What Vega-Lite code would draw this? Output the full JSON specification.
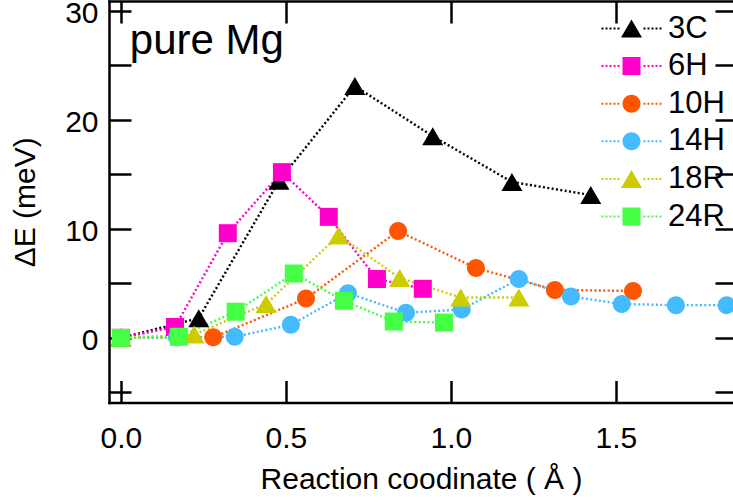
{
  "$schema": "https://vega.github.io/schema/vega-lite/v6.json",
  "width": 624,
  "height": 401.5,
  "autosize": {"type": "none"},
  "padding": {"left": 109, "top": 1, "right": 0, "bottom": 99.5},
  "background": "white",
  "config": {
    "view": {"stroke": null},
    "font": "Liberation Sans",
    "axis": {"grid": false, "domainColor": "black", "tickColor": "black", "labelColor": "black", "titleColor": "black", "labelFont": "Liberation Sans", "titleFont": "Liberation Sans", "titleFontWeight": "normal", "domainWidth": 2.5, "tickWidth": 2.5, "domainCap": "square"}
  },
  "data": {"values": [
    {"series": "3C", "x": 0, "y": 0},
    {"series": "3C", "x": 0.236, "y": 1.8},
    {"series": "3C", "x": 0.479, "y": 14.4},
    {"series": "3C", "x": 0.709, "y": 23.1},
    {"series": "3C", "x": 0.945, "y": 18.5},
    {"series": "3C", "x": 1.185, "y": 14.3},
    {"series": "3C", "x": 1.424, "y": 13.1},
    {"series": "6H", "x": 0, "y": 0},
    {"series": "6H", "x": 0.164, "y": 1.0},
    {"series": "6H", "x": 0.324, "y": 9.6},
    {"series": "6H", "x": 0.488, "y": 15.2},
    {"series": "6H", "x": 0.63, "y": 11.1},
    {"series": "6H", "x": 0.776, "y": 5.4},
    {"series": "6H", "x": 0.915, "y": 4.5},
    {"series": "10H", "x": 0, "y": 0},
    {"series": "10H", "x": 0.28, "y": 0.05},
    {"series": "10H", "x": 0.561, "y": 3.6},
    {"series": "10H", "x": 0.84, "y": 9.8},
    {"series": "10H", "x": 1.076, "y": 6.4},
    {"series": "10H", "x": 1.315, "y": 4.4},
    {"series": "10H", "x": 1.552, "y": 4.3},
    {"series": "14H", "x": 0, "y": 0},
    {"series": "14H", "x": 0.17, "y": 0.05},
    {"series": "14H", "x": 0.345, "y": 0.1},
    {"series": "14H", "x": 0.515, "y": 1.2},
    {"series": "14H", "x": 0.688, "y": 4.1},
    {"series": "14H", "x": 0.864, "y": 2.3},
    {"series": "14H", "x": 1.033, "y": 2.6},
    {"series": "14H", "x": 1.206, "y": 5.4},
    {"series": "14H", "x": 1.364, "y": 3.8},
    {"series": "14H", "x": 1.518, "y": 3.1},
    {"series": "14H", "x": 1.682, "y": 3.0},
    {"series": "14H", "x": 1.836, "y": 3.0},
    {"series": "18R", "x": 0, "y": 0},
    {"series": "18R", "x": 0.222, "y": 0.3},
    {"series": "18R", "x": 0.44, "y": 3.1},
    {"series": "18R", "x": 0.66, "y": 9.4},
    {"series": "18R", "x": 0.845, "y": 5.5},
    {"series": "18R", "x": 1.03, "y": 3.7},
    {"series": "18R", "x": 1.206, "y": 3.7},
    {"series": "24R", "x": 0, "y": 0},
    {"series": "24R", "x": 0.176, "y": 0.1},
    {"series": "24R", "x": 0.348, "y": 2.4},
    {"series": "24R", "x": 0.524, "y": 5.9},
    {"series": "24R", "x": 0.676, "y": 3.4},
    {"series": "24R", "x": 0.827, "y": 1.5},
    {"series": "24R", "x": 0.979, "y": 1.4}
  ]},
  "layer": [
    {
      "mark": {"type": "line", "strokeDash": [2, 2.4], "strokeWidth": 2.4, "strokeCap": "butt"},
      "encoding": {
        "x": {"field": "x", "type": "quantitative", "scale": {"domain": [-0.036, 1.855], "nice": false, "zero": false},
          "axis": {"orient": "bottom", "values": [0, 0.5, 1, 1.5], "format": ".1f", "tickSize": -22, "labelPadding": 42.5, "labelFontSize": 30, "title": "Reaction coodinate ( Å )", "titleFontSize": 30, "titlePadding": 11}},
        "y": {"field": "y", "type": "quantitative", "scale": {"domain": [-5.93, 30.9], "nice": false, "zero": false},
          "axis": {"orient": "left", "values": [-5, 0, 5, 10, 15, 20, 25, 30], "labelExpr": "datum.value % 10 === 0 ? datum.label : ''", "tickSize": -22, "labelPadding": 33, "labelFontSize": 30, "labelOffset": 3, "title": "ΔE (meV)", "titleFontSize": 30, "titlePadding": 24,
            "encode": {"ticks": {"update": {"x2": {"signal": "datum.value % 10 === 0 ? 22 : 11"}}}}}},
        "color": {"field": "series", "type": "nominal", "legend": null,
          "scale": {"domain": ["3C", "6H", "10H", "14H", "18R", "24R"], "range": ["#000000", "#ff00cc", "#ff5500", "#44bbff", "#cccc00", "#44ff44"]}},
        "detail": {"field": "series"}
      }
    },
    {
      "mark": {"type": "point", "filled": true, "opacity": 1, "size": 400, "strokeWidth": 0},
      "encoding": {
        "x": {"field": "x", "type": "quantitative", "scale": {"domain": [-0.036, 1.855], "nice": false, "zero": false},
          "axis": {"orient": "top", "values": [0, 0.5, 1, 1.5], "labels": false, "tickSize": -22, "title": null}},
        "y": {"field": "y", "type": "quantitative", "scale": {"domain": [-5.93, 30.9], "nice": false, "zero": false},
          "axis": {"orient": "right", "values": [-5, 0, 5, 10, 15, 20, 25, 30], "labels": false, "domain": false, "tickSize": -18, "title": null,
            "encode": {"ticks": {"update": {"x2": {"signal": "datum.value % 10 === 0 ? -18 : -8"}}}}}},
        "color": {"field": "series", "type": "nominal", "legend": null,
          "scale": {"domain": ["3C", "6H", "10H", "14H", "18R", "24R"], "range": ["#000000", "#ff00cc", "#ff5500", "#44bbff", "#cccc00", "#44ff44"]}},
        "shape": {"field": "series", "type": "nominal", "legend": null,
          "scale": {"domain": ["3C", "6H", "10H", "14H", "18R", "24R"], "range": ["M0,-0.9L1.05,0.9L-1.05,0.9Z", "M-0.9,-0.9H0.9V0.9H-0.9Z", "M0.9,0A0.9,0.9,0,1,1,-0.9,0A0.9,0.9,0,1,1,0.9,0Z", "M0.9,0A0.9,0.9,0,1,1,-0.9,0A0.9,0.9,0,1,1,0.9,0Z", "M0,-0.9L1.05,0.9L-1.05,0.9Z", "M-0.9,-0.9H0.9V0.9H-0.9Z"]}}
      }
    },
    {
      "transform": [{"filter": "false"}],
      "mark": {"type": "point", "filled": true, "opacity": 1, "size": 400, "strokeWidth": 0},
      "encoding": {
        "x": {"field": "x", "type": "quantitative", "scale": {"domain": [-0.036, 1.855], "nice": false, "zero": false}, "axis": null},
        "y": {"field": "y", "type": "quantitative", "scale": {"domain": [-5.93, 30.9], "nice": false, "zero": false}, "axis": null},
        "color": {"field": "series", "type": "nominal",
          "scale": {"domain": ["3C", "6H", "10H", "14H", "18R", "24R"], "range": ["#000000", "#ff00cc", "#ff5500", "#44bbff", "#cccc00", "#44ff44"]},
          "legend": {"orient": "none", "legendX": 507, "legendY": 12, "title": null, "padding": 0, "symbolSize": 400, "symbolStrokeWidth": 0, "symbolOpacity": 1, "labelFontSize": 31, "labelFont": "Liberation Sans", "labelColor": "black", "labelOffset": 21, "rowPadding": 5.6}},
        "shape": {"field": "series", "type": "nominal",
          "scale": {"domain": ["3C", "6H", "10H", "14H", "18R", "24R"], "range": [
            "M0,-0.9L1.05,0.9L-1.05,0.9ZM-3,-0.1h0.2v0.2h-0.2zM-2.6,-0.1h0.2v0.2h-0.2zM-2.2,-0.1h0.2v0.2h-0.2zM-1.8,-0.1h0.2v0.2h-0.2zM-1.4,-0.1h0.2v0.2h-0.2zM1.2,-0.1h0.2v0.2h-0.2zM1.6,-0.1h0.2v0.2h-0.2zM2,-0.1h0.2v0.2h-0.2zM2.4,-0.1h0.2v0.2h-0.2zM2.8,-0.1h0.2v0.2h-0.2z",
            "M-0.9,-0.9H0.9V0.9H-0.9ZM-3,-0.1h0.2v0.2h-0.2zM-2.6,-0.1h0.2v0.2h-0.2zM-2.2,-0.1h0.2v0.2h-0.2zM-1.8,-0.1h0.2v0.2h-0.2zM-1.4,-0.1h0.2v0.2h-0.2zM1.2,-0.1h0.2v0.2h-0.2zM1.6,-0.1h0.2v0.2h-0.2zM2,-0.1h0.2v0.2h-0.2zM2.4,-0.1h0.2v0.2h-0.2zM2.8,-0.1h0.2v0.2h-0.2z",
            "M0.9,0A0.9,0.9,0,1,1,-0.9,0A0.9,0.9,0,1,1,0.9,0ZM-3,-0.1h0.2v0.2h-0.2zM-2.6,-0.1h0.2v0.2h-0.2zM-2.2,-0.1h0.2v0.2h-0.2zM-1.8,-0.1h0.2v0.2h-0.2zM-1.4,-0.1h0.2v0.2h-0.2zM1.2,-0.1h0.2v0.2h-0.2zM1.6,-0.1h0.2v0.2h-0.2zM2,-0.1h0.2v0.2h-0.2zM2.4,-0.1h0.2v0.2h-0.2zM2.8,-0.1h0.2v0.2h-0.2z",
            "M0.9,0A0.9,0.9,0,1,1,-0.9,0A0.9,0.9,0,1,1,0.9,0ZM-3,-0.1h0.2v0.2h-0.2zM-2.6,-0.1h0.2v0.2h-0.2zM-2.2,-0.1h0.2v0.2h-0.2zM-1.8,-0.1h0.2v0.2h-0.2zM-1.4,-0.1h0.2v0.2h-0.2zM1.2,-0.1h0.2v0.2h-0.2zM1.6,-0.1h0.2v0.2h-0.2zM2,-0.1h0.2v0.2h-0.2zM2.4,-0.1h0.2v0.2h-0.2zM2.8,-0.1h0.2v0.2h-0.2z",
            "M0,-0.9L1.05,0.9L-1.05,0.9ZM-3,-0.1h0.2v0.2h-0.2zM-2.6,-0.1h0.2v0.2h-0.2zM-2.2,-0.1h0.2v0.2h-0.2zM-1.8,-0.1h0.2v0.2h-0.2zM-1.4,-0.1h0.2v0.2h-0.2zM1.2,-0.1h0.2v0.2h-0.2zM1.6,-0.1h0.2v0.2h-0.2zM2,-0.1h0.2v0.2h-0.2zM2.4,-0.1h0.2v0.2h-0.2zM2.8,-0.1h0.2v0.2h-0.2z",
            "M-0.9,-0.9H0.9V0.9H-0.9ZM-3,-0.1h0.2v0.2h-0.2zM-2.6,-0.1h0.2v0.2h-0.2zM-2.2,-0.1h0.2v0.2h-0.2zM-1.8,-0.1h0.2v0.2h-0.2zM-1.4,-0.1h0.2v0.2h-0.2zM1.2,-0.1h0.2v0.2h-0.2zM1.6,-0.1h0.2v0.2h-0.2zM2,-0.1h0.2v0.2h-0.2zM2.4,-0.1h0.2v0.2h-0.2zM2.8,-0.1h0.2v0.2h-0.2z"]},
          "legend": {"orient": "none", "legendX": 507, "legendY": 12, "title": null, "padding": 0, "symbolSize": 400, "symbolStrokeWidth": 0, "symbolOpacity": 1, "labelFontSize": 31, "labelFont": "Liberation Sans", "labelColor": "black", "labelOffset": 21, "rowPadding": 5.6}}
      }
    },
    {
      "data": {"values": [{"label": "pure Mg"}]},
      "mark": {"type": "text", "fontSize": 42, "align": "left", "baseline": "alphabetic", "font": "Liberation Sans", "color": "black"},
      "encoding": {
        "text": {"field": "label"},
        "x": {"datum": 0.027, "type": "quantitative", "scale": {"domain": [-0.036, 1.855], "nice": false, "zero": false}, "axis": null},
        "y": {"datum": 26.0, "type": "quantitative", "scale": {"domain": [-5.93, 30.9], "nice": false, "zero": false}, "axis": null}
      }
    }
  ],
  "resolve": {"axis": {"x": "independent", "y": "independent"}, "scale": {"shape": "independent"}, "legend": {"color": "independent", "shape": "independent"}}
}
